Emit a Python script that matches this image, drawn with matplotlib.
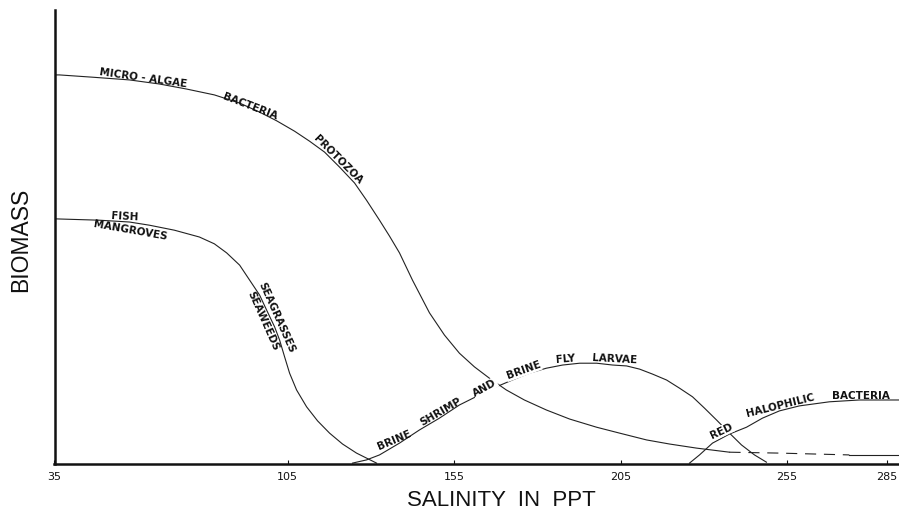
import matplotlib.pyplot as plt
import numpy as np

# salinity (ppt) vs. relative biomass
micro_x = [35, 36.5, 46.4, 57.5, 66.5, 74.6, 83.0, 90.6, 96.6, 101.7, 107.1,
           111.6, 116.1, 120.6, 125.1, 128.7, 132.6, 135.6, 138.6, 142.5, 147.6,
           152.1, 156.6, 161.1, 165.6, 170.7, 176.1, 182.7, 189.7, 197.8, 204.7,
           212.8, 219.7, 227.8, 237.7, 252.7, 273.7, 288.5]
micro_y = [85.7, 85.7, 85.2, 84.6, 83.7, 82.6, 81.3, 79.5, 77.5, 75.6, 73.3,
           71.1, 68.7, 65.4, 61.9, 58.1, 53.7, 50.2, 46.5, 40.5, 33.3,
           28.4, 24.4, 21.4, 18.9, 16.3, 14.1, 11.9, 9.9, 8.1, 6.8,
           5.3, 4.4, 3.5, 2.6, 2.4, 2.0, 2.0]

fish_x = [35, 48.5, 57.5, 63.5, 71.0, 78.5, 83.0, 86.7, 90.6, 93.6, 96.6, 98.7,
          101.1, 102.6, 104.1, 105.6, 107.7, 110.7, 114.0, 117.6, 121.5, 125.7,
          128.7, 131.7]
fish_y = [54.0, 53.7, 53.3, 52.6, 51.5, 50.0, 48.5, 46.5, 43.8, 40.5, 37.2, 33.9,
          30.2, 27.3, 23.6, 20.0, 16.3, 12.6, 9.5, 6.8, 4.4, 2.4,
          1.3, 0.2]

brine_x = [124.5, 128.7, 132.6, 138.6, 144.6, 150.6, 156.6, 162.6, 167.7, 172.5,
           177.6, 182.7, 187.6, 192.7, 197.8, 202.6, 206.8, 210.7, 214.6, 218.8,
           222.7, 226.6, 230.2, 233.8, 237.7, 241.3, 245.2, 248.8]
brine_y = [0.2, 0.9, 2.0, 4.6, 7.5, 10.1, 13.0, 15.2, 17.0, 18.5,
           20.0, 21.1, 21.8, 22.2, 22.2, 21.8, 21.6, 20.9, 19.8, 18.5,
           16.7, 14.8, 12.3, 9.7, 6.8, 4.2, 2.0, 0.4]

red_x = [225.7, 228.7, 232.6, 237.7, 242.8, 247.6, 252.7, 258.7, 267.7, 276.7, 288.5]
red_y = [0.2, 2.0, 4.6, 6.6, 8.1, 10.1, 11.7, 12.8, 13.7, 14.1, 14.1]

xticks = [35, 105, 155, 205, 255, 285]

fig = plt.figure(figsize=(8.99, 5.13), dpi=100)
ax = fig.add_axes([54.5 / 899, 49 / 513, (899 - 54.5) / 899, 454 / 513])

lw = 0.8
ink = '#222222'
mx = np.array(micro_x)
my = np.array(micro_y)
solid1 = mx <= 237.7
dashed = (mx >= 237.7) & (mx <= 273.7)
solid2 = mx >= 273.7
ax.plot(mx[solid1], my[solid1], color=ink, lw=lw)
ax.plot(mx[dashed], my[dashed], color=ink, lw=lw, dashes=(10, 7))
ax.plot(mx[solid2], my[solid2], color=ink, lw=lw)
ax.plot(fish_x, fish_y, color=ink, lw=lw)
ax.plot(brine_x, brine_y, color=ink, lw=lw)
ax.plot(red_x, red_y, color=ink, lw=lw)

ax.set_xlim(35, 35 + (899 - 54.5) / 3.33)
ax.set_ylim(0, 100)

for s in ['top', 'right']:
    ax.spines[s].set_visible(False)
for s in ['left', 'bottom']:
    ax.spines[s].set_linewidth(1.8)
    ax.spines[s].set_color('#111111')

ax.set_yticks([])
ax.set_xticks(xticks)
ax.set_xticklabels([str(t) for t in xticks])
ax.tick_params(axis='x', direction='in', length=3, width=0.8, pad=6,
               labelsize=8, colors='#111111')

lab = dict(fontsize=7.5, fontweight='bold', color='#111111',
           rotation_mode='anchor', ha='center')
white = dict(facecolor='white', edgecolor='none', pad=0.5)

ax.text(61.4, 84.4, 'MICRO - ALGAE', rotation=-8, va='baseline', **lab)
ax.text(93.3, 78.2, 'BACTERIA', rotation=-21, va='baseline', **lab)
ax.text(119.4, 66.5, 'PROTOZOA', rotation=-45, va='baseline', **lab)
ax.text(56.0, 53.8, 'FISH', rotation=-3, va='baseline', **lab)
ax.text(58.1, 52.6, 'MANGROVES', rotation=-10, va='top', **lab)
ax.text(100.9, 32.0, 'SEAGRASSES', rotation=-66, va='baseline', **lab)
ax.text(98.9, 32.0, 'SEAWEEDS', rotation=-66, va='top', **lab)

ax.text(137.4, 4.6, 'BRINE', rotation=23, va='baseline', **lab)
ax.text(151.5, 11.0, 'SHRIMP', rotation=30, va='baseline', **lab)
ax.text(164.7, 16.2, 'AND', rotation=29, va='baseline', bbox=white, **lab)
ax.text(176.1, 20.0, 'BRINE', rotation=20, va='baseline', bbox=white, **lab)
ax.text(188.5, 22.4, 'FLY', rotation=5, va='baseline', **lab)
ax.text(203.2, 22.4, 'LARVAE', rotation=-3, va='baseline', **lab)

ax.text(235.6, 6.6, 'RED', rotation=25, va='baseline', bbox=white, **lab)
ax.text(253.3, 12.3, 'HALOPHILIC', rotation=14, va='baseline', **lab)
ax.text(277.3, 14.4, 'BACTERIA', rotation=0, va='baseline', **lab)

fig.text(501 / 899, 1 - 500 / 513, 'SALINITY  IN  PPT', ha='center', va='center',
         fontsize=16, family='Liberation Sans', color='#111111')
fig.text(21 / 899, 1 - 240 / 513, 'BIOMASS', ha='center', va='center', rotation=90,
         fontsize=16.5, family='Liberation Sans', color='#111111')

fig.savefig('out.png', dpi=100)
